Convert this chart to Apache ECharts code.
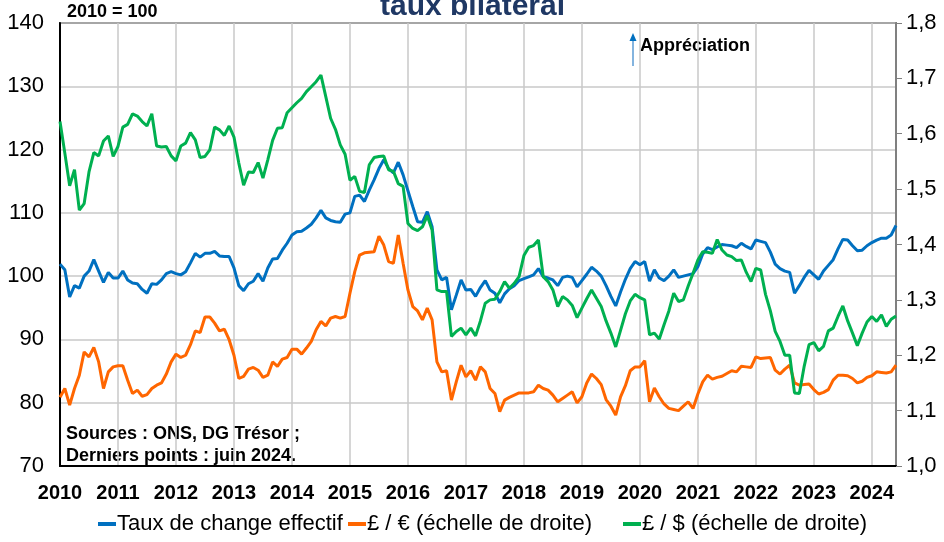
<!DOCTYPE html>
<html>
<head>
<meta charset="utf-8">
<script src="https://cdn.jsdelivr.net/npm/echarts@6/dist/echarts.min.js"></script>
<style>
  html, body { margin: 0; padding: 0; background: #fff; }
  #chart { width: 944px; height: 542px; }
</style>
</head>
<body>
<div id="chart"></div>
<script>
// années affichées sur l'axe (une étiquette au mois de janvier)
const years = ['2010', '2011', '2012', '2013', '2014', '2015', '2016', '2017',
  '2018', '2019', '2020', '2021', '2022', '2023', '2024']
const lastMonth = 6 // juin 2024

// taux de change effectif, 2010 = 100 (axe de gauche)
const effectif = [
  101.9, 101.0, 96.7, 98.5, 98.1, 100.0, 100.8, 102.6, 100.8, 99.0, 100.6, 99.7,
  99.7, 100.8, 99.4, 98.9, 98.8, 97.9, 97.3, 98.8, 98.7, 99.4, 100.4, 100.7,
  100.4, 100.2, 100.7, 102.1, 103.6, 103.0, 103.6, 103.6, 103.9, 103.2, 103.1, 103.1,
  101.3, 98.5, 97.7, 98.8, 99.2, 100.4, 99.2, 101.3, 102.7, 102.8, 104.1, 105.2,
  106.5, 107.0, 107.1, 107.6, 108.2, 109.2, 110.4, 109.2, 108.8, 108.6, 108.5, 109.8,
  110.0, 112.6, 112.8, 111.8, 113.6, 115.2, 117.0, 118.4, 117.0, 116.3, 118.0, 116.0,
  113.5, 111.0, 108.6, 108.5, 110.2, 107.8, 101.0, 99.4, 99.8, 94.7, 97.0, 99.4,
  97.8, 97.9, 96.8, 98.2, 99.3, 97.8, 97.3, 95.8, 97.2, 98.0, 98.5, 99.3,
  99.6, 99.9, 100.2, 101.2, 99.9, 99.7, 99.4, 98.5, 99.8, 100.0, 99.8, 98.3,
  99.3, 100.3, 101.4, 100.8, 100.0, 98.5, 96.8, 95.3, 97.5, 99.5, 101.2, 102.3,
  101.8, 102.3, 99.2, 101.0, 99.7, 99.3, 100.0, 101.0, 99.8, 100.0, 100.2, 100.4,
  101.5, 103.5, 104.5, 104.2, 104.6, 105.0, 104.9, 104.8, 104.5, 105.2, 104.7, 104.3,
  105.7, 105.5, 105.3, 103.8, 101.9, 101.2, 100.8, 100.6, 97.3, 98.5, 99.8, 100.9,
  100.2, 99.5, 100.8, 101.7, 102.6, 104.3, 105.8, 105.7, 104.8, 104.0, 104.1, 104.8,
  105.3, 105.7, 106.0, 106.0, 106.5, 108.0
]

// £ / € (axe de droite)
const gbpEur = [
  1.124, 1.140, 1.110, 1.140, 1.164, 1.206, 1.197, 1.214, 1.188, 1.140, 1.170, 1.179,
  1.181, 1.181, 1.155, 1.131, 1.137, 1.126, 1.129, 1.140, 1.146, 1.150, 1.166, 1.188,
  1.202, 1.196, 1.200, 1.219, 1.244, 1.241, 1.269, 1.269, 1.258, 1.244, 1.247, 1.228,
  1.200, 1.158, 1.162, 1.175, 1.178, 1.173, 1.160, 1.164, 1.188, 1.180, 1.193, 1.196,
  1.211, 1.211, 1.202, 1.213, 1.225, 1.246, 1.261, 1.253, 1.267, 1.270, 1.267, 1.270,
  1.312, 1.351, 1.381, 1.385, 1.386, 1.387, 1.415, 1.399, 1.369, 1.366, 1.417, 1.366,
  1.318, 1.288, 1.280, 1.264, 1.285, 1.264, 1.188, 1.170, 1.172, 1.119, 1.152, 1.182,
  1.161, 1.172, 1.155, 1.179, 1.170, 1.140, 1.131, 1.098, 1.119, 1.124, 1.128, 1.132,
  1.132, 1.132, 1.134, 1.146, 1.140, 1.137, 1.128, 1.116, 1.122, 1.128, 1.134, 1.114,
  1.125, 1.150, 1.166, 1.158, 1.147, 1.120, 1.108, 1.092, 1.125, 1.145, 1.172, 1.179,
  1.179, 1.190, 1.116, 1.141, 1.125, 1.112, 1.104, 1.102, 1.100, 1.108, 1.116, 1.104,
  1.130, 1.152, 1.164, 1.157, 1.160, 1.162, 1.167, 1.172, 1.170, 1.180, 1.179, 1.178,
  1.197, 1.194, 1.195, 1.196, 1.173, 1.166, 1.175, 1.182, 1.150, 1.146, 1.147, 1.148,
  1.138, 1.130, 1.133, 1.138, 1.155, 1.164, 1.164, 1.163, 1.158, 1.150, 1.153, 1.160,
  1.163, 1.170, 1.169, 1.168, 1.170, 1.182
]

// £ / $ (axe de droite)
const gbpUsd = [
  1.622, 1.565, 1.506, 1.535, 1.462, 1.474, 1.531, 1.566, 1.560, 1.587, 1.596, 1.559,
  1.577, 1.612, 1.617, 1.636, 1.632, 1.622, 1.614, 1.636, 1.578, 1.576, 1.577, 1.560,
  1.551, 1.578, 1.583, 1.602, 1.589, 1.557, 1.559, 1.571, 1.612, 1.607, 1.597, 1.614,
  1.594, 1.547, 1.507, 1.531, 1.530, 1.548, 1.520, 1.553, 1.588, 1.610, 1.611, 1.638,
  1.647, 1.656, 1.664, 1.676, 1.685, 1.694, 1.706, 1.667, 1.628, 1.608, 1.580, 1.563,
  1.516, 1.523, 1.496, 1.494, 1.544, 1.557, 1.559, 1.560, 1.535, 1.532, 1.510, 1.505,
  1.438, 1.429, 1.425, 1.432, 1.452, 1.426, 1.318, 1.315, 1.315, 1.234, 1.243, 1.249,
  1.237, 1.249, 1.235, 1.262, 1.294, 1.300, 1.301, 1.315, 1.333, 1.321, 1.330, 1.342,
  1.380, 1.395, 1.398, 1.408, 1.342, 1.333, 1.318, 1.288, 1.306, 1.300, 1.290, 1.268,
  1.285, 1.302, 1.318, 1.303, 1.288, 1.262, 1.240, 1.215, 1.245, 1.275, 1.298, 1.310,
  1.304, 1.300, 1.237, 1.240, 1.229, 1.255, 1.280, 1.312, 1.297, 1.300, 1.325, 1.348,
  1.372, 1.387, 1.386, 1.384, 1.409, 1.390, 1.381, 1.378, 1.371, 1.372, 1.350, 1.333,
  1.357, 1.354, 1.310, 1.280, 1.243, 1.225, 1.200, 1.200, 1.132, 1.131, 1.180, 1.219,
  1.223, 1.208, 1.216, 1.244, 1.249, 1.270, 1.289, 1.262, 1.240, 1.217, 1.240, 1.260,
  1.270, 1.261, 1.273, 1.252, 1.265, 1.271
]

const names = ['Taux de change effectif', '£ / € (échelle de droite)', '£ / $ (échelle de droite)']
const colors = ['#0070C0', '#FF6600', '#00B050']

// mois : 2010-01 ... 2024-06
const months = []
years.forEach(function(y, i) {
  const n = i === years.length - 1 ? lastMonth : 12
  for (let m = 1; m <= n; m++) {
    months.push(y + '-' + (m < 10 ? '0' + m : m))
  }
})

const isJanuary = function(idx) { return idx % 12 === 0 }
const gridColor = '#C8C8C8'
const font = 'Liberation Sans, Arial, sans-serif'

// une légende par série pour caler chaque entrée comme dans l'original
const legendLeft = [93, 343, 618]
const legends = names.map(function(name, i) {
  return {
    data: [name],
    bottom: 2,
    left: legendLeft[i],
    icon: 'rect',
    itemWidth: 18,
    itemHeight: 4,
    textStyle: { fontSize: 22, color: '#000', fontFamily: font, padding: [0, 0, 0, -4] }
  }
})

const chart = echarts.init(document.getElementById('chart'))
chart.setOption({
  animation: false,
  color: colors,
  textStyle: { fontFamily: font },
  grid: {
    left: 60,
    right: 48,
    top: 23,
    bottom: 76,
    show: true,
    borderColor: '#000',
    borderWidth: 1.5
  },
  legend: legends,
  xAxis: {
    type: 'category',
    data: months,
    boundaryGap: false,
    axisLine: { lineStyle: { color: '#000', width: 2 } },
    axisTick: { show: false },
    axisLabel: {
      interval: isJanuary,
      formatter: function(v) { return v.slice(0, 4) },
      color: '#000',
      fontSize: 20,
      fontWeight: 'bold',
      margin: 17
    },
    splitLine: { show: true, interval: isJanuary, lineStyle: { color: gridColor, width: 1.5 } }
  },
  yAxis: [
    {
      type: 'value',
      min: 70,
      max: 140,
      interval: 10,
      axisLine: { show: true, lineStyle: { color: '#000', width: 2 } },
      axisTick: { show: false },
      axisLabel: { color: '#000', fontSize: 22, margin: 16 },
      splitLine: { lineStyle: { color: gridColor, width: 1.5 } }
    },
    {
      type: 'value',
      min: 1.0,
      max: 1.8,
      interval: 0.1,
      position: 'right',
      axisLine: { show: true, lineStyle: { color: '#808080', width: 2 } },
      axisTick: { show: true, length: 6, lineStyle: { color: '#808080' } },
      axisLabel: {
        color: '#000',
        fontSize: 22,
        margin: 10,
        formatter: function(v) { return v.toFixed(1).replace('.', ',') }
      },
      splitLine: { show: false }
    }
  ],
  series: [
    {
      name: names[0],
      type: 'line',
      data: effectif,
      showSymbol: false,
      lineStyle: { width: 3 }
    },
    {
      name: names[1],
      type: 'line',
      yAxisIndex: 1,
      data: gbpEur,
      showSymbol: false,
      lineStyle: { width: 3 }
    },
    {
      name: names[2],
      type: 'line',
      yAxisIndex: 1,
      data: gbpUsd,
      showSymbol: false,
      lineStyle: { width: 3 }
    }
  ],
  graphic: [
    // titre coupé en haut de l'image
    {
      type: 'text',
      left: 380,
      top: -8,
      style: { text: 'taux bilatéral', fontSize: 30, fontWeight: 'bold', fill: '#1F3864', fontFamily: font }
    },
    {
      type: 'text',
      left: 67,
      top: 3,
      style: { text: '2010 = 100', fontSize: 18, fontWeight: 'bold', fill: '#000', fontFamily: font }
    },
    {
      type: 'text',
      left: 640,
      top: 37,
      style: { text: 'Appréciation', fontSize: 18, fontWeight: 'bold', fill: '#000', fontFamily: font }
    },
    {
      type: 'line',
      shape: { x1: 633, y1: 66, x2: 633, y2: 40 },
      style: { stroke: '#5B9BD5', lineWidth: 1.5 }
    },
    {
      type: 'polygon',
      shape: { points: [[633, 33], [629.5, 41], [636.5, 41]] },
      style: { fill: '#0070C0' }
    },
    {
      type: 'text',
      left: 66,
      top: 423,
      style: {
        text: 'Sources : ONS, DG Trésor ;\nDerniers points : juin 2024.',
        fontSize: 18,
        lineHeight: 22,
        fontWeight: 'bold',
        fill: '#000',
        fontFamily: font
      }
    }
  ]
})
</script>
</body>
</html>
